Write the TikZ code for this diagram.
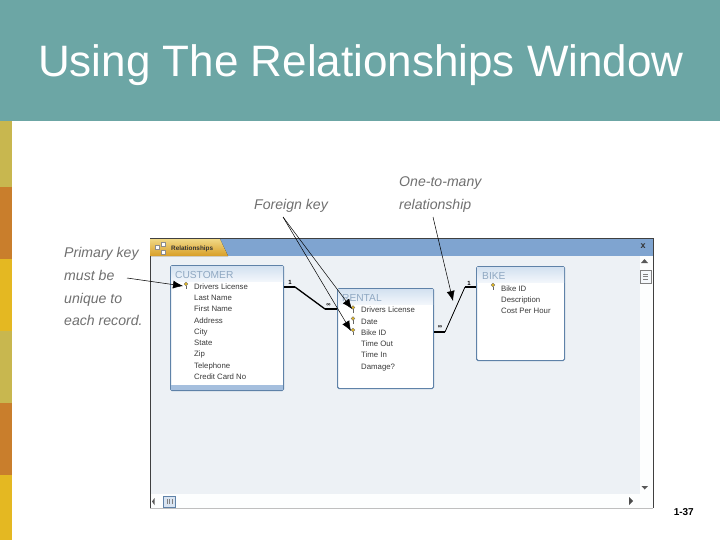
\documentclass[tikz,border=0pt]{standalone}
\usepackage{fontspec}
\setmainfont{Liberation Sans}
\usetikzlibrary{arrows.meta,calc}
\definecolor{teal}{HTML}{6CA6A5}
\definecolor{olive}{HTML}{C8B74F}
\definecolor{orng}{HTML}{C97E2C}
\definecolor{yell}{HTML}{E4B822}
\definecolor{barblue}{HTML}{7FA4D0}
\definecolor{inner}{HTML}{EDF1F5}
\definecolor{edge}{HTML}{5F82A8}
\definecolor{headtop}{HTML}{D3E1F0}
\definecolor{headbot}{HTML}{F2F6FB}
\definecolor{tabtext}{HTML}{3A3A3A}
\definecolor{lab}{HTML}{707070}
\tikzset{
  x=1pt,y=-1pt,
  tablebox/.style={draw=edge,line width=1.1pt,fill=white,rounded corners=1.5pt,inner sep=0pt,anchor=north west},
  tablehead/.style={anchor=base west,text=edge!70!white,font=\fontsize{10.2}{11}\selectfont,inner sep=0pt},
  field/.style={anchor=base west,text=tabtext,font=\fontsize{7.8}{9}\selectfont,inner sep=0pt},
  callout/.style={anchor=base west,text=lab,font=\itshape\fontsize{14.1}{15}\selectfont,inner sep=0pt},
  rel/.style={line width=1.3pt,black},
  relend/.style={line width=2.4pt,black},
  relmark/.style={font=\bfseries\fontsize{6}{6}\selectfont,inner sep=0pt},
  pointer/.style={black,line width=.5pt,-{Latex[length=10pt,width=8pt]}},
  keyicon/.style={fill=yell,draw=black!55,line width=.3pt,circle,minimum size=3.6pt,inner sep=0pt},
}
\newcommand{\keystem}[1]{\draw[black!60,line width=.9pt] (#1.south) -- ++(0,3.5);}
\begin{document}
\begin{tikzpicture}
\useasboundingbox (0,0) rectangle (720,540);
\fill[white] (0,0) rectangle (720,540);
% header
\fill[teal] (0,0) rectangle (720,121);
\node[anchor=base west,text=white,font=\fontsize{44}{44}\selectfont,inner sep=0pt] (title) at (38,77) {Using The Relationships Window};
% stripes
\fill[olive] (0,121) rectangle (12,187);
\fill[orng] (0,187) rectangle (12,259);
\fill[yell] (0,259) rectangle (12,331);
\fill[olive] (0,331) rectangle (12,403);
\fill[orng] (0,403) rectangle (12,475);
\fill[yell] (0,475) rectangle (12,540);
% window
\fill[inner] (150,238) rectangle (640,494);
\fill[barblue] (150,238) rectangle (653,256);
\fill[white!90!inner] (640,256) rectangle (653,508);
\fill[white!90!inner] (150,494) rectangle (653,508);
\draw[black!75,line width=1pt] (150,508) -- (150,238) -- (653,238) -- (653,508);
\draw[black!25,line width=.7pt] (150,508) -- (653,508);
% tab
\fill[top color=yell!55!white,bottom color=orng!45!yell] (150.5,239) -- (220,239) -- (228,256) -- (150.5,256) -- cycle;
\draw[black!45,fill=white] (155,245) rectangle (159,249);
\draw[black!45,fill=white] (161,242) rectangle (165,246);
\draw[black!45,fill=white] (161,250) rectangle (165,254);
\node[anchor=base west,inner sep=0pt,text=black!80,font=\bfseries\fontsize{6.4}{7}\selectfont] (tab) at (171,250) {Relationships};
\node[font=\bfseries\fontsize{9}{9}\selectfont,inner sep=0pt,text=black!80] (closex) at (643,246.5) {x};
% scroll bars
\fill[black!65] (641,263) -- (648,263) -- (644.5,259) -- cycle;
\draw[black!50,fill=white!92!barblue] (640,270) rectangle (651,283);
\draw[black!50,line width=.4pt] (643,274) -- (648,274) (643,276.5) -- (648,276.5) (643,279) -- (648,279);
\fill[black!65] (641.5,486) -- (648,486) -- (644.7,489.5) -- cycle;
\fill[black!65] (154.5,498) -- (154.5,505) -- (152,501.5) -- cycle;
\fill[black!70] (629,497) -- (629,505) -- (633,501) -- cycle;
\draw[edge,fill=barblue!30!white,line width=.5pt] (163,496) rectangle (175,507);
\draw[black!50,line width=.5pt] (167,499) -- (167,504) (169.5,499) -- (169.5,504) (172,499) -- (172,504);
% CUSTOMER
\node[tablebox,minimum width=113pt,minimum height=125pt] (cust) at (170,265) {};
\fill[top color=headtop,bottom color=headbot] (171,266) rectangle (283,281);
\node[tablehead] (custh) at (175,278) {CUSTOMER};
\node[keyicon] (k1) at (186,284) {}; \keystem{k1}
\node[field] at (194,289.3) {Drivers License};
\node[field] at (194,300.6) {Last Name};
\node[field] at (194,311.8) {First Name};
\node[field] at (194,323.1) {Address};
\node[field] at (194,334.4) {City};
\node[field] at (194,345.7) {State};
\node[field] at (194,356.9) {Zip};
\node[field] at (194,368.2) {Telephone};
\node[field] at (194,379.5) {Credit Card No};
\fill[barblue!70!white] (171,385) rectangle (283,389.5);
% RENTAL
\node[tablebox,minimum width=96pt,minimum height=100pt] (rent) at (337,288) {};
\fill[top color=headtop,bottom color=headbot] (338,289) rectangle (433,304);
\node[tablehead] (renth) at (342,301) {RENTAL};
\node[keyicon] (k2) at (353,307.5) {}; \keystem{k2}
\node[keyicon] (k3) at (353,318.5) {}; \keystem{k3}
\node[keyicon] (k4) at (353,330) {}; \keystem{k4}
\node[field] at (361,312.8) {Drivers License};
\node[field] at (361,324) {Date};
\node[field] at (361,335.2) {Bike ID};
\node[field] at (361,346.5) {Time Out};
\node[field] at (361,357.7) {Time In};
\node[field] at (361,369) {Damage?};
% BIKE
\node[tablebox,minimum width=88pt,minimum height=94pt] (bike) at (476,266) {};
\fill[top color=headtop,bottom color=headbot] (477,267) rectangle (564,282);
\node[tablehead] (bikeh) at (482,279) {BIKE};
\node[keyicon] (k5) at (493,285) {}; \keystem{k5}
\node[field] at (501,291) {Bike ID};
\node[field] at (501,302.3) {Description};
\node[field] at (501,313.5) {Cost Per Hour};
% relationship lines
\coordinate (c1) at (295,287);
\coordinate (c2) at (325,309);
\coordinate (c3) at (445,332);
\coordinate (c4) at (465,287);
\draw[relend] (cust.north east |- 0,287) -- (c1);
\draw[rel] (c1) -- (c2);
\draw[relend] (c2) -- (rent.north west |- 0,309);
\draw[relend] (rent.north east |- 0,332) -- (c3);
\draw[rel,line width=.8pt] (c3) -- (c4);
\draw[relend] (c4) -- (bike.north west |- 0,287);
\node[relmark] (r1) at (290,282) {1};
\node[relmark] (r2) at (328.5,305) {∞};
\node[relmark] (r3) at (440,327) {∞};
\node[relmark] (r4) at (469,283) {1};
% callouts
\node[callout] (pk1) at (64,258) {Primary key};
\node[callout] (pk2) at (64,280.5) {must be};
\node[callout] (pk3) at (64,303) {unique to};
\node[callout] (pk4) at (64,325.5) {each record.};
\node[callout] (fk) at (254,209.5) {Foreign key};
\node[callout] (om1) at (399,186.5) {One-to-many};
\node[callout] (om2) at (399,209.5) {relationship};
\coordinate (a0) at (127,278);
\coordinate (a1) at (283,217);
\coordinate (a2) at (433,217);
\coordinate (t1) at (183,286);
\coordinate (t2) at (352,309);
\coordinate (t3) at (351,331);
\coordinate (a3) at (453,301);
\draw[pointer] (a0) -- (t1);
\draw[pointer] (a1) -- (t2);
\draw[pointer] (a1) -- (t3);
\draw[pointer] (a2) -- (a3);
% page number
\node[anchor=base east,inner sep=0pt,font=\bfseries\fontsize{10}{10}\selectfont] (page) at (694,515) {1-37};
\end{tikzpicture}
\end{document}
